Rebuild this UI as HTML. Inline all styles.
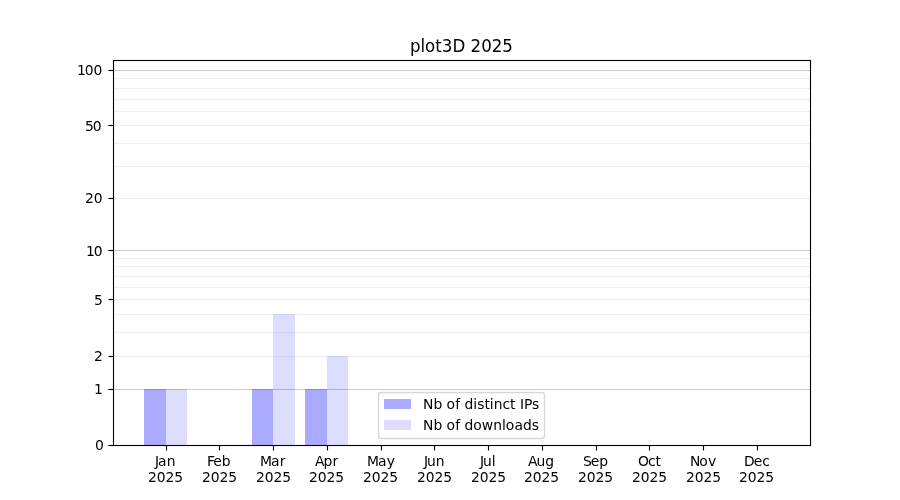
<!DOCTYPE html>
<html lang="en"><head><meta charset="utf-8"><title>plot3D 2025</title>
<style>
html,body{margin:0;padding:0;background:#fff;}
body{width:900px;height:500px;overflow:hidden;}
svg{display:block;}
text{font-family:"DejaVu Sans","Liberation Sans",sans-serif;fill:#000;white-space:pre;}
.t10{font-size:13.889px;}
.t12{font-size:16.667px;}
.ln{stroke:#000;stroke-width:1.111;fill:none;}
</style></head><body>
<svg width="900" height="500" viewBox="0 0 900 500">
<rect x="0" y="0" width="900" height="500" fill="#fff"/>
<g fill="none" stroke-width="1.111">
<line x1="113" x2="810.5" y1="389.5" y2="389.5" stroke="#cccccc"/>
<line x1="113" x2="810.5" y1="356.5" y2="356.5" stroke="#eeeeee"/>
<line x1="113" x2="810.5" y1="332.5" y2="332.5" stroke="#eeeeee"/>
<line x1="113" x2="810.5" y1="314.5" y2="314.5" stroke="#eeeeee"/>
<line x1="113" x2="810.5" y1="299.5" y2="299.5" stroke="#eeeeee"/>
<line x1="113" x2="810.5" y1="287.5" y2="287.5" stroke="#eeeeee"/>
<line x1="113" x2="810.5" y1="276.5" y2="276.5" stroke="#eeeeee"/>
<line x1="113" x2="810.5" y1="266.5" y2="266.5" stroke="#eeeeee"/>
<line x1="113" x2="810.5" y1="258.5" y2="258.5" stroke="#eeeeee"/>
<line x1="113" x2="810.5" y1="250.5" y2="250.5" stroke="#cccccc"/>
<line x1="113" x2="810.5" y1="198.5" y2="198.5" stroke="#eeeeee"/>
<line x1="113" x2="810.5" y1="166.5" y2="166.5" stroke="#eeeeee"/>
<line x1="113" x2="810.5" y1="143.5" y2="143.5" stroke="#eeeeee"/>
<line x1="113" x2="810.5" y1="125.5" y2="125.5" stroke="#eeeeee"/>
<line x1="113" x2="810.5" y1="111.5" y2="111.5" stroke="#eeeeee"/>
<line x1="113" x2="810.5" y1="99.5" y2="99.5" stroke="#eeeeee"/>
<line x1="113" x2="810.5" y1="88.5" y2="88.5" stroke="#eeeeee"/>
<line x1="113" x2="810.5" y1="78.5" y2="78.5" stroke="#eeeeee"/>
<line x1="113" x2="810.5" y1="70.5" y2="70.5" stroke="#cccccc"/>
</g>
<g shape-rendering="crispEdges">
<rect x="144" y="389" width="22" height="56" fill="#0000ff" fill-opacity="0.33333"/>
<rect x="166" y="389" width="21" height="56" fill="#0000ff" fill-opacity="0.13333"/>
<rect x="252" y="389" width="21" height="56" fill="#0000ff" fill-opacity="0.33333"/>
<rect x="273" y="314" width="22" height="131" fill="#0000ff" fill-opacity="0.13333"/>
<rect x="305" y="389" width="22" height="56" fill="#0000ff" fill-opacity="0.33333"/>
<rect x="327" y="356" width="21" height="89" fill="#0000ff" fill-opacity="0.13333"/>
</g>
<g class="ln">
<line x1="166.5" x2="166.5" y1="445.5" y2="450.5"/>
<line x1="219.5" x2="219.5" y1="445.5" y2="450.5"/>
<line x1="273.5" x2="273.5" y1="445.5" y2="450.5"/>
<line x1="327.5" x2="327.5" y1="445.5" y2="450.5"/>
<line x1="381.5" x2="381.5" y1="445.5" y2="450.5"/>
<line x1="434.5" x2="434.5" y1="445.5" y2="450.5"/>
<line x1="488.5" x2="488.5" y1="445.5" y2="450.5"/>
<line x1="542.5" x2="542.5" y1="445.5" y2="450.5"/>
<line x1="596.5" x2="596.5" y1="445.5" y2="450.5"/>
<line x1="649.5" x2="649.5" y1="445.5" y2="450.5"/>
<line x1="703.5" x2="703.5" y1="445.5" y2="450.5"/>
<line x1="757.5" x2="757.5" y1="445.5" y2="450.5"/>
<line x1="108.5" x2="113.5" y1="445.5" y2="445.5"/>
<line x1="108.5" x2="113.5" y1="389.5" y2="389.5"/>
<line x1="108.5" x2="113.5" y1="356.5" y2="356.5"/>
<line x1="108.5" x2="113.5" y1="299.5" y2="299.5"/>
<line x1="108.5" x2="113.5" y1="250.5" y2="250.5"/>
<line x1="108.5" x2="113.5" y1="198.5" y2="198.5"/>
<line x1="108.5" x2="113.5" y1="125.5" y2="125.5"/>
<line x1="108.5" x2="113.5" y1="70.5" y2="70.5"/>
<rect x="113.5" y="60.5" width="697" height="385" stroke-linejoin="miter"/>
</g>
<g class="t10">
<text x="155 158 166.625" y="465.776">Jan</text>
<text x="207 213.25 221.75" y="465.776">Feb</text>
<text x="260 271 279.625" y="465.776">Mar</text>
<text x="315 323.5 332.375" y="465.776">Apr</text>
<text x="367 378 386.625" y="465.776">May</text>
<text x="424 427 435.75" y="465.776">Jun</text>
<text x="480 483 491.75" y="465.776">Jul</text>
<text x="528 536.5 545.25" y="465.776">Aug</text>
<text x="583 590.75 599.25" y="465.776">Sep</text>
<text x="638 647.875 655.5" y="465.776">Oct</text>
<text x="690 699.125 707.875" y="465.776">Nov</text>
<text x="744 753.75 762.25" y="465.776">Dec</text>
<text x="148 156.75 165.5 174.25" y="481.828">2025</text>
<text x="202 210.75 219.5 228.25" y="481.828">2025</text>
<text x="256 264.75 273.5 282.25" y="481.828">2025</text>
<text x="309 317.75 326.5 335.25" y="481.828">2025</text>
<text x="363 371.75 380.5 389.25" y="481.828">2025</text>
<text x="417 425.75 434.5 443.25" y="481.828">2025</text>
<text x="471 479.75 488.5 497.25" y="481.828">2025</text>
<text x="524 532.75 541.5 550.25" y="481.828">2025</text>
<text x="578 586.75 595.5 604.25" y="481.828">2025</text>
<text x="632 640.75 649.5 658.25" y="481.828">2025</text>
<text x="686 694.75 703.5 712.25" y="481.828">2025</text>
<text x="739 747.75 756.5 765.25" y="481.828">2025</text>
<text x="95" y="449.777">0</text>
<text x="94" y="393.942">1</text>
<text x="94" y="360.988">2</text>
<text x="94" y="304.654">5</text>
<text x="86 93.625" y="255.891">10</text>
<text x="85 93.75" y="202.837">20</text>
<text x="85 92.75" y="130.722">50</text>
<text x="77 84.625 93.375" y="75.188">100</text>
</g>
<text class="t12" transform="translate(410 52) scale(1 1.085)" x="0 10.5 15.125 25.25 31.75 42.625 55.25 60.5 71.375 81.875 92.25" y="0">plot3D 2025</text>
<rect x="378.5" y="392.5" width="166" height="46" rx="2.78" ry="2.78" fill="#fff" fill-opacity="0.8" stroke="#cccccc" stroke-opacity="0.8" stroke-width="1.389"/>
<g shape-rendering="crispEdges">
<rect x="384" y="399" width="27" height="10" fill="#0000ff" fill-opacity="0.33333"/>
<rect x="384" y="420" width="27" height="10" fill="#0000ff" fill-opacity="0.13333"/>
</g>
<g class="t10">
<text x="423 433.375 442.25 446.375 455.125 460.125 464.5 473.125 477.25 484.375 489.625 493.75 502.5 509.875 515.625 520 524 531.875" y="408.725">Nb of distinct IPs</text>
<text x="423 433.375 442.25 446.375 455.125 460.125 464.5 473.125 481.625 493.25 502 505.625 514.375 523 531.625" y="429.612">Nb of downloads</text>
</g>
</svg>
</body></html>
